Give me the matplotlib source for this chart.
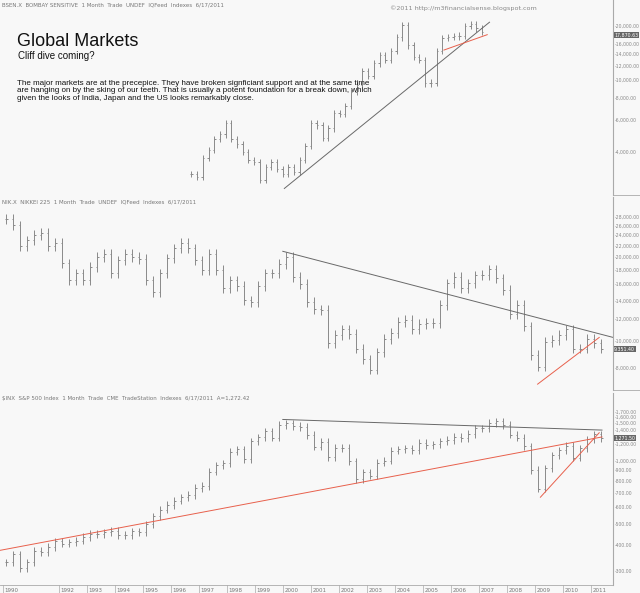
import numpy as np
import matplotlib
matplotlib.use("Agg")
import matplotlib.pyplot as plt
from matplotlib.ticker import FixedLocator, FuncFormatter

# --- DANE (kwartalne zamknięcia) ---
sensex_start = 1998.5
sensex = [3000, 2900, 3700, 4100, 4700, 5000, 5800, 4700, 4400, 4000,
          3600, 3500, 2800, 3300, 3500, 3200, 3000, 3300, 3100, 3600, 4300, 5800,
          5600, 4800, 5400, 6600, 6500, 7200, 8600, 9400, 11300, 10600, 12400, 13800,
          13000, 14600, 17300, 20200, 15600, 13400, 12900, 9600, 9700, 14500, 17100, 17400,
          17500, 17700, 20000, 20500, 19400, 18600]
nikkei_start = 1990.0
nikkei = [27500, 26000, 22000, 23000, 24000, 24500, 22000, 22500, 19000, 16500, 17500, 16500,
          18500, 20000, 20500, 17500, 19500, 20500, 20000, 19700, 16500, 15000, 17500, 19800,
          21500, 22500, 21500, 19500, 18000, 20500, 18000, 15500, 16500, 15800, 14000, 13800,
          15800, 17500, 17500, 18900, 20000, 17000, 16000, 13800, 13000, 12900, 9800, 10500,
          11000, 10600, 9400, 8600, 7900, 9100, 10200, 10700, 11700, 11900, 11000, 11500,
          11600, 11600, 13500, 16100, 17000, 15500, 16100, 17200, 17300, 18100, 16800, 15300,
          12500, 13500, 11300, 8900, 8100, 9900, 10100, 10500, 11000, 9400, 9400, 10200,
          9800, 9400]
spx_start = 1990.0
spx = [330, 360, 310, 330, 375, 370, 390, 415, 405, 410, 418, 435, 450, 450, 458, 466,
       445, 444, 462, 459, 500, 545, 585, 615, 645, 670, 687, 740, 757, 885, 947, 970,
       1100, 1130, 1017, 1229, 1286, 1372, 1282, 1469, 1498, 1454, 1436, 1320,
       1160, 1224, 1040, 1148, 1147, 990, 815, 880, 848, 975, 996, 1112,
       1126, 1140, 1114, 1212, 1181, 1191, 1228, 1248, 1294, 1270, 1335, 1418,
       1420, 1503, 1527, 1468, 1322, 1280, 1166, 903, 735, 919, 1057, 1115,
       1169, 1030, 1141, 1258, 1326, 1272]

sensex_lines = [((2002.7, 2500), (2011.7, 21000), 'dimgray'), ((2009.7, 14700), (2011.6, 17900), '#e8604c')]
nikkei_lines = [((2000.0, 21000), (2011.8, 10300), 'dimgray'), ((2009.1, 7000), (2011.3, 10300), '#e8604c')]
spx_lines = [((1989.9, 376), (2011.4, 1290), '#e8604c'), ((2000.0, 1560), (2011.4, 1390), 'dimgray'),
             ((2009.2, 670), (2011.3, 1350), '#e8604c')]

sensex_ticks = [4000, 6000, 8000, 10000, 12000, 14000, 16000, 18000, 20000]
nikkei_ticks = [8000, 10000, 12000, 14000, 16000, 18000, 20000, 22000, 24000, 26000, 28000]
spx_ticks = [300, 400, 500, 600, 700, 800, 900, 1000, 1200, 1400, 1500, 1600, 1700]
years = [y for y in range(1990, 2012) if y != 1991]

BG = '#f8f8f8'
NARROW = ['Liberation Sans Narrow', 'Liberation Sans', 'DejaVu Sans']
W, H = 640, 593
fig = plt.figure(figsize=(6.4, 5.93), dpi=100, facecolor=BG)


def draw_panel(top, bottom, ylim, xlim, start, closes, lines, ticks, last, header):
    ax = fig.add_axes([0, 1 - bottom / H, 613 / W, (bottom - top) / H], facecolor=BG)
    t = start + np.arange(len(closes)) * 0.25 + 0.125
    c = np.array(closes, dtype=float)
    prev = np.concatenate([[c[0]], c[:-1]])
    hi = np.maximum(prev, c) * 1.04
    lo = np.minimum(prev, c) * 0.96
    ax.vlines(t, lo, hi, color='#8a8a8a', lw=0.7)
    ax.hlines(c, t, t + 0.06, color='#8a8a8a', lw=0.7)
    ax.hlines(prev, t - 0.06, t, color='#8a8a8a', lw=0.7)
    for (x0, y0), (x1, y1), col in lines:
        ax.plot([x0, x1], [y0, y1], color=col, lw=0.7)
    ax.set_yscale('log')
    ax.set_ylim(*ylim)
    ax.set_xlim(*xlim)
    ax.yaxis.tick_right()
    ax.yaxis.set_major_locator(FixedLocator(ticks))
    ax.yaxis.set_minor_locator(FixedLocator([]))
    ax.yaxis.set_major_formatter(FuncFormatter(lambda v, p: f"-{v:,.2f}"))
    ax.tick_params(axis='y', length=0, labelsize=3.3, labelcolor='#888888', pad=1)
    ax.set_xticks([])
    for s in ['top', 'left', 'bottom']:
        ax.spines[s].set_visible(False)
    ax.spines['right'].set_color('#aaaaaa')
    ax.text(1.002, last, f"{last:,.2f}", transform=ax.get_yaxis_transform(), fontsize=3.4,
            color='white', va='center', ha='left',
            bbox=dict(boxstyle='square,pad=0.15', fc='#666666', ec='none'))
    ax.text(0.003, 0.985, header, transform=ax.transAxes, fontsize=4.0, color='#777777', va='top')
    return ax


draw_panel(0, 195, (2300, 27900), (1990.23, 1990.23 + 613 / 22.8), sensex_start, sensex, sensex_lines,
           sensex_ticks, 17870.63, "BSEN.X  BOMBAY SENSITIVE  1 Month  Trade  UNDEF  IQFeed  Indexes  6/17/2011")
draw_panel(197, 390, (6670, 32900), (1989.9, 1989.9 + 613 / 28), nikkei_start, nikkei, nikkei_lines,
           nikkei_ticks, 9351.40, "NIK.X  NIKKEI 225  1 Month  Trade  UNDEF  IQFeed  Indexes  6/17/2011")
ax3 = draw_panel(393, 585, (258, 2080), (1989.9, 1989.9 + 613 / 28), spx_start, spx, spx_lines, spx_ticks,
                 1271.50, "$INX  S&P 500 Index  1 Month  Trade  CME  TradeStation  Indexes  6/17/2011  A=1,272.42")

for y in years:
    ax3.text(y + 0.05, -0.015, str(y), transform=ax3.get_xaxis_transform(), fontsize=4.0,
             color='#777777', va='top', ha='left')
    ax3.axvline(y, ymin=-0.045, ymax=0, color='#aaaaaa', lw=0.5, clip_on=False)
fig.add_artist(plt.Line2D([0, 613 / W], [1 - 585 / H] * 2, color='#aaaaaa', lw=0.6))
fig.add_artist(plt.Line2D([613 / W, 1], [1 - 195 / H] * 2, color='#aaaaaa', lw=0.6))
fig.add_artist(plt.Line2D([613 / W, 1], [1 - 390 / H] * 2, color='#aaaaaa', lw=0.6))

fig.text(0.61, 1 - 8 / H, "©2011 http://m3financialsense.blogspot.com", fontsize=4.6, color='#888888', va='center')
fig.text(17 / W, 1 - 42 / H, "Global Markets", fontsize=13, family=NARROW, va='center', color='#111111')
fig.text(18 / W, 1 - 56 / H, "Cliff dive coming?", fontsize=7, family=NARROW, va='center', color='#111111')
fig.text(17 / W, 1 - 91 / H,
         "The major markets are at the precepice. They have broken signficiant support and at the same time\n"
         "are hanging on by the sking of our teeth. That is usually a potent foundation for a break down, which\n"
         "given the looks of India, Japan and the US looks remarkably close.",
         fontsize=5.8, family=NARROW, va='center', color='#111111', linespacing=1.1)

fig.savefig("out.png", dpi=100, facecolor=BG)
